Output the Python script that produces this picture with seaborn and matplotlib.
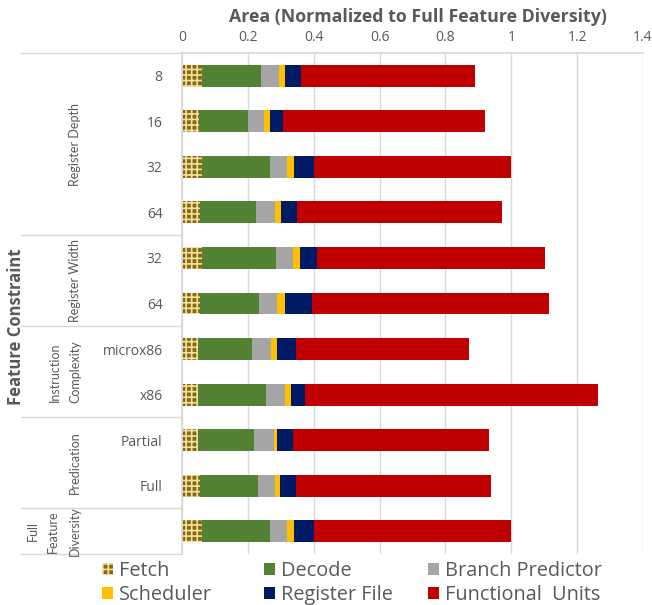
import numpy as np
import pandas as pd
import matplotlib
matplotlib.use("Agg")
import matplotlib.pyplot as plt
import matplotlib.patches as mpatches
import matplotlib.transforms as mtrans
import seaborn as sns

# ---- data ----
row_labels = ["8", "16", "32", "64", "32", "64", "microx86", "x86", "Partial", "Full", ""]
groups = [("Register Depth", 0, 3, ["Register Depth"]),
          ("Register Width", 4, 5, ["Register Width"]),
          ("Instruction Complexity", 6, 7, ["Instruction", "Complexity"]),
          ("Predication", 8, 9, ["Predication"]),
          ("Full Feature Diversity", 10, 10, ["Full", "Feature", "Diversity"])]
series = ["Fetch", "Decode", "Branch Predictor", "Scheduler", "Register File", "Functional  Units"]
fetch = [0.061, 0.051, 0.061, 0.055, 0.061, 0.055, 0.049, 0.049, 0.049, 0.055, 0.061]
decode = [0.179, 0.149, 0.206, 0.171, 0.224, 0.178, 0.163, 0.206, 0.169, 0.175, 0.206]
branch = [0.054, 0.048, 0.051, 0.056, 0.052, 0.056, 0.059, 0.057, 0.061, 0.053, 0.053]
sched = [0.018, 0.019, 0.023, 0.019, 0.020, 0.023, 0.019, 0.019, 0.011, 0.015, 0.021]
regfile = [0.049, 0.040, 0.060, 0.048, 0.052, 0.082, 0.056, 0.044, 0.048, 0.047, 0.060]
func_units = [0.530, 0.614, 0.599, 0.624, 0.694, 0.721, 0.527, 0.889, 0.595, 0.594, 0.599]
xticks = [0, 0.2, 0.4, 0.6, 0.8, 1, 1.2, 1.4]
xtick_labels = ["0", "0.2", "0.4", "0.6", "0.8", "1", "1.2", "1.4"]

colors = ["#7F6000", "#548235", "#A5A5A5", "#FFC000", "#001A66", "#C00000"]
TXT = "#595959"
FETCH_FACE = "#8A6A08"
FETCH_HATCH = "#EFE0A8"

sns.set_theme(style="white")
plt.rcParams['font.family'] = ['Open Sans', 'DejaVu Sans']
plt.rcParams['hatch.linewidth'] = 1.2

W, H = 652, 605
fig = plt.figure(figsize=(W / 100, H / 100), dpi=100)
L, R, T, B = 182, 643, 53, 554
ax = fig.add_axes([L / W, 1 - B / H, (R - L) / W, (B - T) / H])

vals = np.array([fetch, decode, branch, sched, regfile, func_units])
cum = np.cumsum(vals, axis=0)
ids = [f"r{i}" for i in range(len(row_labels))]

# draw cumulative layers from largest to smallest
for k in range(len(series) - 1, -1, -1):
    df = pd.DataFrame({"row": ids, "value": cum[k]})
    sns.barplot(data=df, x="value", y="row", orient="h", color=colors[k],
                saturation=1, width=0.48, ax=ax, order=ids, linewidth=0)
# hatch for fetch
for p in ax.containers[-1]:
    p.set_facecolor(FETCH_FACE)
    p.set_edgecolor(FETCH_HATCH)
    p.set_hatch("+++")
    p.set_linewidth(0)

ax.set_xlim(0, 1.4)
ax.set_ylim(10.5, -0.5)
ax.xaxis.tick_top()
ax.set_xticks(xticks)
ax.set_xticklabels(xtick_labels, color=TXT, fontsize=10)
ax.tick_params(axis="x", length=0, pad=6)
ax.set_yticks(range(len(row_labels)))
ax.set_yticklabels(row_labels, color=TXT, fontsize=10)
ax.tick_params(axis="y", length=0, pad=14)
ax.set_xlabel("")
ax.set_ylabel("")
ax.grid(axis="x", color="#D9D9D9", linewidth=1)
ax.set_axisbelow(True)
for s in ["right", "bottom"]:
    ax.spines[s].set_visible(False)
ax.spines["left"].set_color("#D9D9D9")
ax.spines["top"].set_color("#D9D9D9")

# group separators in left area
tr = mtrans.blended_transform_factory(ax.transAxes, ax.transData)
x_left = (21 - L) / (R - L)
for yv in [-0.5, 3.5, 5.5, 7.5, 9.5, 10.5]:
    ax.plot([x_left, 0], [yv, yv], transform=tr, color="#D9D9D9", lw=1, clip_on=False)

# group labels
line_x = {1: [75], 2: [55, 75], 3: [33, 53, 75]}
for name, a, b, lines in groups:
    yc = (a + b) / 2
    xs = line_x[len(lines)]
    for ln, xp in zip(lines, xs):
        ax.text((xp - L) / (R - L), yc, ln, transform=tr, rotation=90,
                ha="center", va="center", fontsize=9, color=TXT,
                family=["Lato", "DejaVu Sans"])

fig.text(16 / W, 1 - 327 / H, "Feature Constraint", rotation=90, ha="center",
         va="center", fontsize=12, fontweight="bold", color=TXT)
fig.text(418 / W, 1 - 17.5 / H, "Area (Normalized to Full Feature Diversity)",
         ha="center", va="center", fontsize=12.8, fontweight="bold", color=TXT)

# legend: three fixed-position columns
handles = []
for k, name in enumerate(series):
    if k == 0:
        h = mpatches.Patch(facecolor=FETCH_FACE, edgecolor=FETCH_HATCH, hatch="+++",
                           linewidth=0, label=name)
    else:
        h = mpatches.Patch(facecolor=colors[k], linewidth=0, label=name)
    handles.append(h)
col_x = [102, 264, 428]
for c in range(3):
    idx = [c, c + 3]
    leg = fig.legend([handles[i] for i in idx], [series[i] for i in idx],
                     ncol=1, loc="center left", bbox_to_anchor=(col_x[c] / W, 1 - 583 / H),
                     frameon=False, fontsize=14.3, handlelength=0.55, handleheight=0.55,
                     handletextpad=0.3, labelspacing=0.22,
                     borderpad=0, borderaxespad=0)
    for t in leg.get_texts():
        t.set_color(TXT)

fig.savefig("out.png", dpi=100)
